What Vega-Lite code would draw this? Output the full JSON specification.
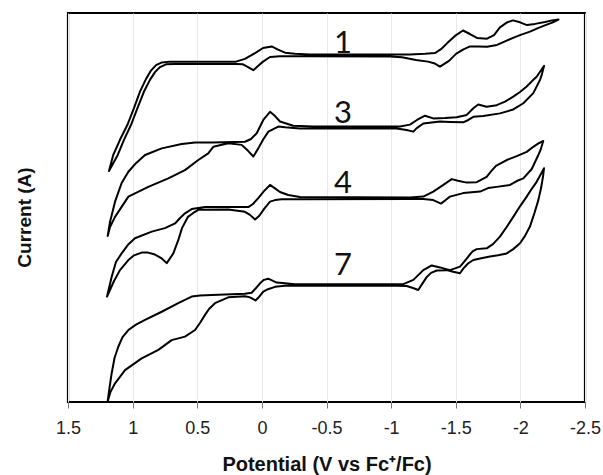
{
  "$schema": "https://vega.github.io/schema/vega-lite/v6.json",
  "width": 517,
  "height": 389,
  "autosize": {"type": "none"},
  "padding": {"left": 68, "top": 13, "right": 18, "bottom": 73},
  "background": "white",
  "config": {"view": {"stroke": "black", "strokeWidth": 2.2}},
  "datasets": {
    "cv": [
      {"s":"1","i":0,"v":1.183,"c":59.4},{"s":"1","i":1,"v":1.150,"c":63.5},{"s":"1","i":2,"v":1.098,"c":67.4},{"s":"1","i":3,"v":1.041,"c":71.2},{"s":"1","i":4,"v":0.989,"c":75.6},{"s":"1","i":5,"v":0.943,"c":79.8},{"s":"1","i":6,"v":0.897,"c":83.0},{"s":"1","i":7,"v":0.858,"c":85.2},{"s":"1","i":8,"v":0.819,"c":86.6},{"s":"1","i":9,"v":0.773,"c":87.3},{"s":"1","i":10,"v":0.711,"c":87.5},{"s":"1","i":11,"v":0.401,"c":87.5},{"s":"1","i":12,"v":0.200,"c":87.5},{"s":"1","i":13,"v":0.131,"c":88.2},{"s":"1","i":14,"v":0.053,"c":89.7},{"s":"1","i":15,"v":-0.009,"c":91.0},{"s":"1","i":16,"v":-0.076,"c":91.4},{"s":"1","i":17,"v":-0.125,"c":90.6},{"s":"1","i":18,"v":-0.179,"c":89.8},{"s":"1","i":19,"v":-0.256,"c":89.5},{"s":"1","i":20,"v":-0.372,"c":89.3},{"s":"1","i":21,"v":-0.991,"c":89.3},{"s":"1","i":22,"v":-1.146,"c":89.3},{"s":"1","i":23,"v":-1.262,"c":89.5},{"s":"1","i":24,"v":-1.339,"c":89.7},{"s":"1","i":25,"v":-1.386,"c":90.7},{"s":"1","i":26,"v":-1.432,"c":92.2},{"s":"1","i":27,"v":-1.494,"c":94.1},{"s":"1","i":28,"v":-1.556,"c":95.5},{"s":"1","i":29,"v":-1.610,"c":94.6},{"s":"1","i":30,"v":-1.664,"c":93.6},{"s":"1","i":31,"v":-1.742,"c":93.4},{"s":"1","i":32,"v":-1.796,"c":94.3},{"s":"1","i":33,"v":-1.842,"c":96.3},{"s":"1","i":34,"v":-1.897,"c":97.6},{"s":"1","i":35,"v":-1.943,"c":98.1},{"s":"1","i":36,"v":-1.997,"c":97.6},{"s":"1","i":37,"v":-2.051,"c":96.9},{"s":"1","i":38,"v":-2.113,"c":97.2},{"s":"1","i":39,"v":-2.191,"c":97.7},{"s":"1","i":40,"v":-2.245,"c":98.1},{"s":"1","i":41,"v":-2.295,"c":98.3},{"s":"1","i":42,"v":-2.252,"c":97.6},{"s":"1","i":43,"v":-2.204,"c":97.0},{"s":"1","i":44,"v":-2.136,"c":96.1},{"s":"1","i":45,"v":-2.074,"c":95.2},{"s":"1","i":46,"v":-1.997,"c":94.3},{"s":"1","i":47,"v":-1.943,"c":93.6},{"s":"1","i":48,"v":-1.881,"c":92.7},{"s":"1","i":49,"v":-1.819,"c":91.8},{"s":"1","i":50,"v":-1.742,"c":91.3},{"s":"1","i":51,"v":-1.672,"c":91.4},{"s":"1","i":52,"v":-1.610,"c":91.4},{"s":"1","i":53,"v":-1.556,"c":90.6},{"s":"1","i":54,"v":-1.502,"c":89.5},{"s":"1","i":55,"v":-1.448,"c":87.7},{"s":"1","i":56,"v":-1.378,"c":86.2},{"s":"1","i":57,"v":-1.332,"c":87.1},{"s":"1","i":58,"v":-1.285,"c":87.5},{"s":"1","i":59,"v":-1.192,"c":87.9},{"s":"1","i":60,"v":-1.084,"c":88.6},{"s":"1","i":61,"v":-0.991,"c":88.8},{"s":"1","i":62,"v":-0.295,"c":88.9},{"s":"1","i":63,"v":-0.140,"c":88.9},{"s":"1","i":64,"v":-0.063,"c":88.7},{"s":"1","i":65,"v":-0.009,"c":87.5},{"s":"1","i":66,"v":0.030,"c":86.4},{"s":"1","i":67,"v":0.066,"c":85.3},{"s":"1","i":68,"v":0.107,"c":86.1},{"s":"1","i":69,"v":0.146,"c":86.8},{"s":"1","i":70,"v":0.200,"c":86.9},{"s":"1","i":71,"v":0.672,"c":86.9},{"s":"1","i":72,"v":0.742,"c":86.8},{"s":"1","i":73,"v":0.788,"c":86.1},{"s":"1","i":74,"v":0.827,"c":84.8},{"s":"1","i":75,"v":0.866,"c":82.8},{"s":"1","i":76,"v":0.912,"c":79.8},{"s":"1","i":77,"v":0.962,"c":75.6},{"s":"1","i":78,"v":1.013,"c":71.2},{"s":"1","i":79,"v":1.067,"c":67.4},{"s":"1","i":80,"v":1.115,"c":63.5},{"s":"1","i":81,"v":1.183,"c":59.4},

      {"s":"3","i":0,"v":1.193,"c":42.7},{"s":"3","i":1,"v":1.175,"c":46.3},{"s":"3","i":2,"v":1.136,"c":51.5},{"s":"3","i":3,"v":1.085,"c":56.3},{"s":"3","i":4,"v":1.033,"c":59.2},{"s":"3","i":5,"v":0.974,"c":61.4},{"s":"3","i":6,"v":0.904,"c":63.5},{"s":"3","i":7,"v":0.775,"c":65.2},{"s":"3","i":8,"v":0.620,"c":66.3},{"s":"3","i":9,"v":0.517,"c":66.7},{"s":"3","i":10,"v":0.388,"c":66.7},{"s":"3","i":11,"v":0.131,"c":66.9},{"s":"3","i":12,"v":0.084,"c":67.6},{"s":"3","i":13,"v":0.040,"c":69.1},{"s":"3","i":14,"v":-0.011,"c":72.5},{"s":"3","i":15,"v":-0.063,"c":74.6},{"s":"3","i":16,"v":-0.102,"c":73.5},{"s":"3","i":17,"v":-0.140,"c":72.1},{"s":"3","i":18,"v":-0.243,"c":71.0},{"s":"3","i":19,"v":-0.398,"c":70.8},{"s":"3","i":20,"v":-1.069,"c":70.8},{"s":"3","i":21,"v":-1.146,"c":71.3},{"s":"3","i":22,"v":-1.200,"c":72.5},{"s":"3","i":23,"v":-1.262,"c":73.6},{"s":"3","i":24,"v":-1.326,"c":72.9},{"s":"3","i":25,"v":-1.417,"c":73.0},{"s":"3","i":26,"v":-1.507,"c":73.2},{"s":"3","i":27,"v":-1.585,"c":73.8},{"s":"3","i":28,"v":-1.636,"c":75.5},{"s":"3","i":29,"v":-1.674,"c":76.5},{"s":"3","i":30,"v":-1.739,"c":75.9},{"s":"3","i":31,"v":-1.817,"c":76.3},{"s":"3","i":32,"v":-1.881,"c":77.2},{"s":"3","i":33,"v":-1.945,"c":78.5},{"s":"3","i":34,"v":-1.997,"c":79.7},{"s":"3","i":35,"v":-2.049,"c":81.1},{"s":"3","i":36,"v":-2.090,"c":82.5},{"s":"3","i":37,"v":-2.126,"c":83.6},{"s":"3","i":38,"v":-2.156,"c":85.1},{"s":"3","i":39,"v":-2.183,"c":86.4},{"s":"3","i":40,"v":-2.167,"c":84.3},{"s":"3","i":41,"v":-2.152,"c":82.8},{"s":"3","i":42,"v":-2.100,"c":79.4},{"s":"3","i":43,"v":-2.023,"c":76.8},{"s":"3","i":44,"v":-1.945,"c":75.2},{"s":"3","i":45,"v":-1.842,"c":74.2},{"s":"3","i":46,"v":-1.713,"c":73.5},{"s":"3","i":47,"v":-1.636,"c":73.3},{"s":"3","i":48,"v":-1.597,"c":72.5},{"s":"3","i":49,"v":-1.558,"c":71.9},{"s":"3","i":50,"v":-1.455,"c":72.0},{"s":"3","i":51,"v":-1.378,"c":72.1},{"s":"3","i":52,"v":-1.249,"c":71.6},{"s":"3","i":53,"v":-1.198,"c":70.4},{"s":"3","i":54,"v":-1.172,"c":69.5},{"s":"3","i":55,"v":-1.120,"c":69.9},{"s":"3","i":56,"v":-1.043,"c":70.3},{"s":"3","i":57,"v":-0.295,"c":70.3},{"s":"3","i":58,"v":-0.179,"c":70.6},{"s":"3","i":59,"v":-0.127,"c":70.8},{"s":"3","i":60,"v":-0.050,"c":69.5},{"s":"3","i":61,"v":-0.009,"c":67.4},{"s":"3","i":62,"v":0.028,"c":65.2},{"s":"3","i":63,"v":0.066,"c":63.1},{"s":"3","i":64,"v":0.105,"c":64.5},{"s":"3","i":65,"v":0.156,"c":66.1},{"s":"3","i":66,"v":0.260,"c":66.5},{"s":"3","i":67,"v":0.376,"c":65.6},{"s":"3","i":68,"v":0.415,"c":63.9},{"s":"3","i":69,"v":0.492,"c":62.2},{"s":"3","i":70,"v":0.595,"c":59.6},{"s":"3","i":71,"v":0.724,"c":57.5},{"s":"3","i":72,"v":0.879,"c":55.3},{"s":"3","i":73,"v":1.033,"c":52.8},{"s":"3","i":74,"v":1.136,"c":47.6},{"s":"3","i":75,"v":1.175,"c":45.0},{"s":"3","i":76,"v":1.193,"c":42.7},

      {"s":"4","i":0,"v":1.198,"c":27.1},{"s":"4","i":1,"v":1.162,"c":32.2},{"s":"4","i":2,"v":1.129,"c":36.0},{"s":"4","i":3,"v":1.085,"c":38.2},{"s":"4","i":4,"v":1.036,"c":40.4},{"s":"4","i":5,"v":0.982,"c":42.1},{"s":"4","i":6,"v":0.852,"c":43.8},{"s":"4","i":7,"v":0.750,"c":44.7},{"s":"4","i":8,"v":0.672,"c":45.9},{"s":"4","i":9,"v":0.633,"c":47.3},{"s":"4","i":10,"v":0.595,"c":48.5},{"s":"4","i":11,"v":0.543,"c":49.6},{"s":"4","i":12,"v":0.440,"c":50.1},{"s":"4","i":13,"v":0.105,"c":50.1},{"s":"4","i":14,"v":0.069,"c":50.9},{"s":"4","i":15,"v":0.028,"c":52.4},{"s":"4","i":16,"v":-0.016,"c":54.2},{"s":"4","i":17,"v":-0.063,"c":55.8},{"s":"4","i":18,"v":-0.102,"c":54.9},{"s":"4","i":19,"v":-0.140,"c":54.0},{"s":"4","i":20,"v":-0.204,"c":53.2},{"s":"4","i":21,"v":-0.295,"c":52.7},{"s":"4","i":22,"v":-1.146,"c":52.6},{"s":"4","i":23,"v":-1.249,"c":52.8},{"s":"4","i":24,"v":-1.326,"c":54.1},{"s":"4","i":25,"v":-1.404,"c":55.8},{"s":"4","i":26,"v":-1.469,"c":57.3},{"s":"4","i":27,"v":-1.517,"c":56.9},{"s":"4","i":28,"v":-1.585,"c":56.4},{"s":"4","i":29,"v":-1.662,"c":56.5},{"s":"4","i":30,"v":-1.739,"c":57.9},{"s":"4","i":31,"v":-1.773,"c":59.3},{"s":"4","i":32,"v":-1.811,"c":60.7},{"s":"4","i":33,"v":-1.894,"c":62.2},{"s":"4","i":34,"v":-1.972,"c":63.2},{"s":"4","i":35,"v":-2.049,"c":64.3},{"s":"4","i":36,"v":-2.100,"c":65.6},{"s":"4","i":37,"v":-2.140,"c":66.5},{"s":"4","i":38,"v":-2.177,"c":67.1},{"s":"4","i":39,"v":-2.156,"c":64.8},{"s":"4","i":40,"v":-2.139,"c":63.5},{"s":"4","i":41,"v":-2.088,"c":59.9},{"s":"4","i":42,"v":-2.023,"c":57.5},{"s":"4","i":43,"v":-1.972,"c":56.8},{"s":"4","i":44,"v":-1.920,"c":55.8},{"s":"4","i":45,"v":-1.817,"c":55.3},{"s":"4","i":46,"v":-1.750,"c":55.0},{"s":"4","i":47,"v":-1.688,"c":54.1},{"s":"4","i":48,"v":-1.558,"c":53.7},{"s":"4","i":49,"v":-1.455,"c":52.8},{"s":"4","i":50,"v":-1.417,"c":51.8},{"s":"4","i":51,"v":-1.386,"c":51.0},{"s":"4","i":52,"v":-1.326,"c":51.9},{"s":"4","i":53,"v":-1.249,"c":52.2},{"s":"4","i":54,"v":-1.146,"c":52.2},{"s":"4","i":55,"v":-0.295,"c":52.1},{"s":"4","i":56,"v":-0.153,"c":52.1},{"s":"4","i":57,"v":-0.102,"c":51.9},{"s":"4","i":58,"v":-0.063,"c":51.5},{"s":"4","i":59,"v":-0.016,"c":49.6},{"s":"4","i":60,"v":0.022,"c":47.8},{"s":"4","i":61,"v":0.053,"c":46.9},{"s":"4","i":62,"v":0.092,"c":48.1},{"s":"4","i":63,"v":0.131,"c":48.9},{"s":"4","i":64,"v":0.260,"c":49.5},{"s":"4","i":65,"v":0.492,"c":49.4},{"s":"4","i":66,"v":0.531,"c":48.6},{"s":"4","i":67,"v":0.572,"c":47.6},{"s":"4","i":68,"v":0.618,"c":44.7},{"s":"4","i":69,"v":0.647,"c":41.6},{"s":"4","i":70,"v":0.685,"c":38.2},{"s":"4","i":71,"v":0.736,"c":35.7},{"s":"4","i":72,"v":0.775,"c":36.9},{"s":"4","i":73,"v":0.827,"c":37.9},{"s":"4","i":74,"v":0.881,"c":38.4},{"s":"4","i":75,"v":0.930,"c":38.4},{"s":"4","i":76,"v":0.989,"c":37.7},{"s":"4","i":77,"v":1.033,"c":36.5},{"s":"4","i":78,"v":1.098,"c":33.9},{"s":"4","i":79,"v":1.144,"c":31.1},{"s":"4","i":80,"v":1.198,"c":27.1},

      {"s":"7","i":0,"v":1.193,"c":0.2},{"s":"7","i":1,"v":1.179,"c":3.6},{"s":"7","i":2,"v":1.162,"c":7.4},{"s":"7","i":3,"v":1.140,"c":11.3},{"s":"7","i":4,"v":1.111,"c":14.2},{"s":"7","i":5,"v":1.078,"c":16.7},{"s":"7","i":6,"v":1.033,"c":18.5},{"s":"7","i":7,"v":0.974,"c":19.9},{"s":"7","i":8,"v":0.904,"c":21.1},{"s":"7","i":9,"v":0.775,"c":23.2},{"s":"7","i":10,"v":0.647,"c":25.4},{"s":"7","i":11,"v":0.543,"c":27.1},{"s":"7","i":12,"v":0.479,"c":27.4},{"s":"7","i":13,"v":0.388,"c":27.5},{"s":"7","i":14,"v":0.131,"c":27.8},{"s":"7","i":15,"v":0.079,"c":28.1},{"s":"7","i":16,"v":0.045,"c":29.3},{"s":"7","i":17,"v":0.014,"c":30.5},{"s":"7","i":18,"v":-0.016,"c":31.4},{"s":"7","i":19,"v":-0.050,"c":31.7},{"s":"7","i":20,"v":-0.082,"c":31.2},{"s":"7","i":21,"v":-0.115,"c":30.7},{"s":"7","i":22,"v":-0.179,"c":30.5},{"s":"7","i":23,"v":-0.256,"c":30.3},{"s":"7","i":24,"v":-1.094,"c":30.3},{"s":"7","i":25,"v":-1.172,"c":31.4},{"s":"7","i":26,"v":-1.249,"c":33.9},{"s":"7","i":27,"v":-1.314,"c":35.1},{"s":"7","i":28,"v":-1.378,"c":34.6},{"s":"7","i":29,"v":-1.455,"c":33.9},{"s":"7","i":30,"v":-1.533,"c":34.8},{"s":"7","i":31,"v":-1.564,"c":36.0},{"s":"7","i":32,"v":-1.597,"c":37.4},{"s":"7","i":33,"v":-1.630,"c":38.7},{"s":"7","i":34,"v":-1.662,"c":39.3},{"s":"7","i":35,"v":-1.739,"c":39.5},{"s":"7","i":36,"v":-1.788,"c":40.6},{"s":"7","i":37,"v":-1.842,"c":42.5},{"s":"7","i":38,"v":-1.894,"c":45.0},{"s":"7","i":39,"v":-1.945,"c":47.6},{"s":"7","i":40,"v":-1.997,"c":50.3},{"s":"7","i":41,"v":-2.049,"c":52.8},{"s":"7","i":42,"v":-2.088,"c":54.8},{"s":"7","i":43,"v":-2.126,"c":56.6},{"s":"7","i":44,"v":-2.156,"c":58.4},{"s":"7","i":45,"v":-2.183,"c":60.1},{"s":"7","i":46,"v":-2.175,"c":57.9},{"s":"7","i":47,"v":-2.160,"c":55.0},{"s":"7","i":48,"v":-2.139,"c":51.9},{"s":"7","i":49,"v":-2.109,"c":48.6},{"s":"7","i":50,"v":-2.074,"c":45.1},{"s":"7","i":51,"v":-2.036,"c":42.7},{"s":"7","i":52,"v":-1.997,"c":40.8},{"s":"7","i":53,"v":-1.945,"c":39.3},{"s":"7","i":54,"v":-1.894,"c":38.2},{"s":"7","i":55,"v":-1.827,"c":37.7},{"s":"7","i":56,"v":-1.765,"c":37.4},{"s":"7","i":57,"v":-1.688,"c":36.9},{"s":"7","i":58,"v":-1.636,"c":36.5},{"s":"7","i":59,"v":-1.595,"c":35.6},{"s":"7","i":60,"v":-1.558,"c":34.3},{"s":"7","i":61,"v":-1.533,"c":33.1},{"s":"7","i":62,"v":-1.479,"c":33.5},{"s":"7","i":63,"v":-1.430,"c":33.9},{"s":"7","i":64,"v":-1.353,"c":33.8},{"s":"7","i":65,"v":-1.309,"c":33.2},{"s":"7","i":66,"v":-1.275,"c":32.1},{"s":"7","i":67,"v":-1.239,"c":30.3},{"s":"7","i":68,"v":-1.210,"c":28.8},{"s":"7","i":69,"v":-1.169,"c":29.3},{"s":"7","i":70,"v":-1.120,"c":29.8},{"s":"7","i":71,"v":-1.043,"c":29.9},{"s":"7","i":72,"v":-0.295,"c":29.9},{"s":"7","i":73,"v":-0.179,"c":29.9},{"s":"7","i":74,"v":-0.102,"c":29.6},{"s":"7","i":75,"v":-0.047,"c":29.0},{"s":"7","i":76,"v":-0.011,"c":28.4},{"s":"7","i":77,"v":0.022,"c":27.0},{"s":"7","i":78,"v":0.049,"c":26.1},{"s":"7","i":79,"v":0.092,"c":26.9},{"s":"7","i":80,"v":0.131,"c":27.2},{"s":"7","i":81,"v":0.260,"c":26.9},{"s":"7","i":82,"v":0.363,"c":25.4},{"s":"7","i":83,"v":0.409,"c":23.9},{"s":"7","i":84,"v":0.440,"c":22.4},{"s":"7","i":85,"v":0.479,"c":20.3},{"s":"7","i":86,"v":0.517,"c":18.5},{"s":"7","i":87,"v":0.595,"c":16.8},{"s":"7","i":88,"v":0.698,"c":15.9},{"s":"7","i":89,"v":0.801,"c":13.4},{"s":"7","i":90,"v":0.930,"c":11.2},{"s":"7","i":91,"v":1.059,"c":8.2},{"s":"7","i":92,"v":1.136,"c":4.8},{"s":"7","i":93,"v":1.171,"c":2.6},{"s":"7","i":94,"v":1.193,"c":0.2}
    ],
    "labels": [
      {"t":"1","v":-0.628,"c":89.6},
      {"t":"3","v":-0.628,"c":71.7},
      {"t":"4","v":-0.628,"c":53.7},
      {"t":"7","v":-0.628,"c":32.6}
    ]
  },
  "layer": [
    {
      "data": {"name": "cv"},
      "mark": {"type": "line", "color": "black", "strokeWidth": 2, "strokeJoin": "round", "strokeCap": "round"},
      "encoding": {
        "x": {
          "field": "v", "type": "quantitative",
          "scale": {"domain": [-2.5, 1.5], "reverse": true, "nice": false, "zero": false},
          "axis": {
            "values": [1.5, 1, 0.5, 0, -0.5, -1, -1.5, -2, -2.5],
            "labelExpr": "datum.value < 0 ? '-' + abs(datum.value) : '' + datum.value",
            "domain": false,
            "grid": true, "gridColor": "#e8e8e8", "gridWidth": 1,
            "ticks": true, "tickColor": "#777777", "tickSize": 6,
            "labelFont": "Liberation Sans", "labelFontSize": 18, "labelColor": "#222222", "labelPadding": 11,
            "labelFlush": false, "labelOverlap": false,
            "title": "Potential (V vs Fc⁺/Fc)",
            "titleFont": "Liberation Sans", "titleFontSize": 20, "titleFontWeight": "bold", "titleColor": "#111111", "titlePadding": 17
          }
        },
        "y": {
          "field": "c", "type": "quantitative",
          "scale": {"domain": [0, 100], "nice": false, "zero": false},
          "axis": {
            "labels": false, "ticks": false, "domain": false, "grid": false,
            "title": "Current (A)",
            "titleFont": "Liberation Sans", "titleFontSize": 19, "titleFontWeight": "bold", "titleColor": "#111111", "titlePadding": 34,
            "titleY": 204
          }
        },
        "detail": {"field": "s"},
        "order": {"field": "i", "type": "quantitative"}
      }
    },
    {
      "data": {"name": "labels"},
      "mark": {"type": "text", "font": "Lato", "fontSize": 31, "align": "center", "baseline": "alphabetic", "color": "#111111"},
      "encoding": {
        "x": {"field": "v", "type": "quantitative"},
        "y": {"field": "c", "type": "quantitative"},
        "text": {"field": "t"}
      }
    }
  ]
}
